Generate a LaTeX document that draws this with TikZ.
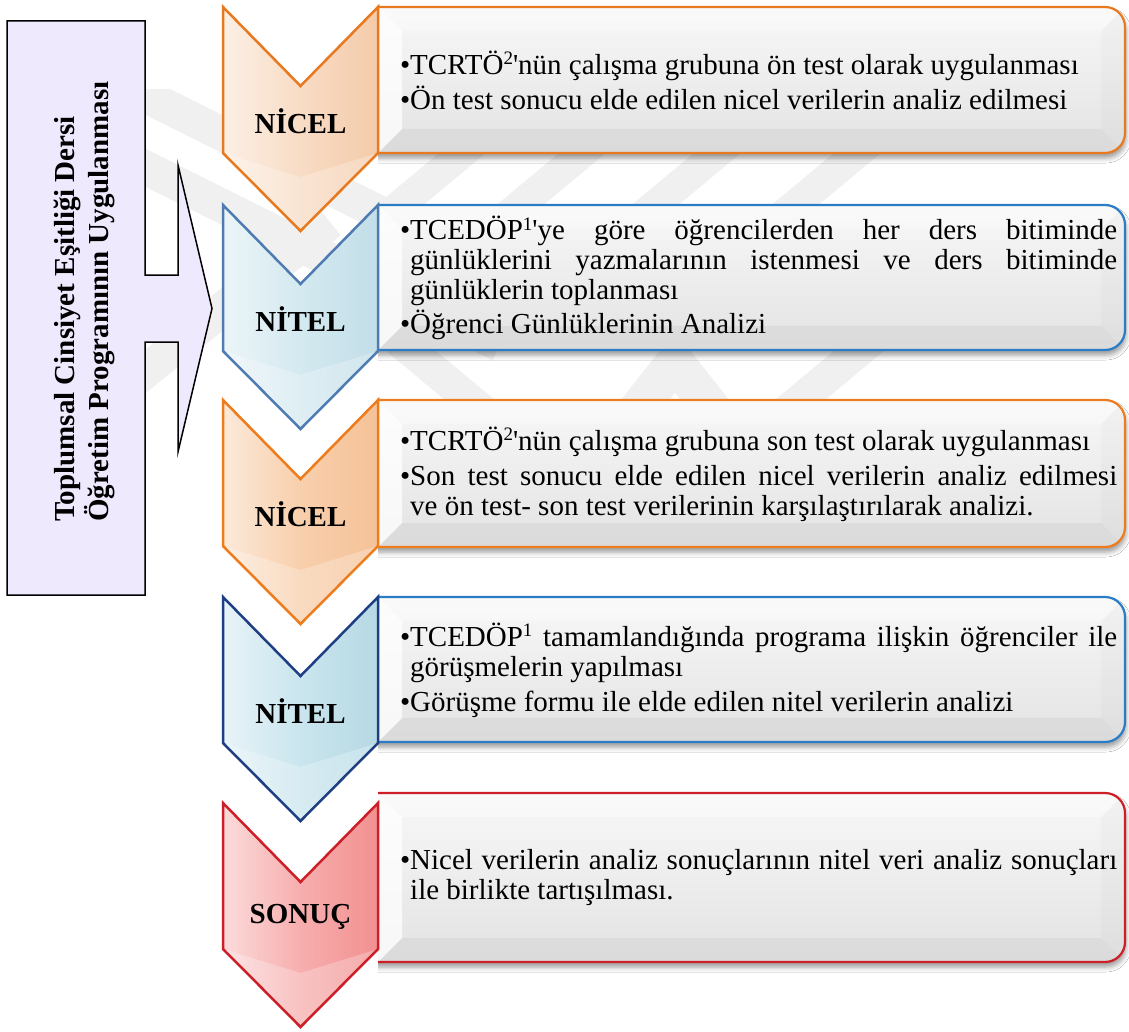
\documentclass[tikz,border=0pt]{standalone}
\usepackage{fontspec}
\setmainfont{Liberation Serif}[Ligatures=TeXOff]
\usetikzlibrary{shadows.blur}

% palette
\definecolor{wmark}{HTML}{F0F0F0}
\definecolor{lilac}{HTML}{EFE9FD}
\definecolor{peachA}{HTML}{F8DCC5}
\definecolor{peachB}{HTML}{F4CBAA}
\definecolor{peachC}{HTML}{F8CFAC}
\definecolor{peachD}{HTML}{F5C298}
\definecolor{skyA}{HTML}{D4E9F0}
\definecolor{skyB}{HTML}{C2DEE8}
\definecolor{skyC}{HTML}{CAE5EE}
\definecolor{skyD}{HTML}{B6D9E4}
\definecolor{roseA}{HTML}{F7AEAE}
\definecolor{roseB}{HTML}{F29090}
\definecolor{orangeline}{HTML}{E8791F}
\definecolor{orangeline2}{HTML}{EE7B1C}
\definecolor{steelline}{HTML}{4E7CB2}
\definecolor{navyline}{HTML}{1F3F84}
\definecolor{redline}{HTML}{CC1F28}
\definecolor{blueline}{HTML}{2B7CC6}

\tikzset{
  chevline/.style={line width=2.5pt, line join=miter},
  cardline/.style={line width=2.2pt},
  stagelabel/.style={font=\fontsize{29}{30}\bfseries\selectfont, inner sep=0pt},
  cardtext/.style={font=\fontsize{29}{30}\selectfont, align=left, inner sep=0pt, anchor=west},
  wstripe/.style={draw=wmark, line cap=butt, line join=miter},
}

% small raised index used in the abbreviations
\newcommand\idx[1]{\raisebox{9.5pt}{\fontsize{19}{19}\selectfont #1}}

% chevron: #1 top y, #2 light tone, #3 dark tone, #4 outline
\newcommand\stagechevron[4]{%
  \fill[left color=white!55!#2, right color=#2]
    (223,#1) -- (300.5,#1+79) -- (300.5,#1+224) -- (223,#1+146) -- cycle;
  \fill[left color=#2, right color=#3]
    (300.5,#1+79) -- (378,#1) -- (378,#1+146) -- (300.5,#1+224) -- cycle;
  \fill[white, opacity=0.25]
    (223,#1+146) -- (300.5,#1+170) -- (378,#1+146) -- (300.5,#1+224) -- cycle;
  \draw[chevline, draw=#4]
    (223,#1) -- (300.5,#1+79) -- (378,#1) -- (378,#1+146)
    -- (300.5,#1+224) -- (223,#1+146) -- cycle;
}

% text card: #1 top y, #2 bottom y, #3 outline
\newcommand\stagecard[3]{%
  \begin{scope}
    \clip (378,#1-10) rectangle (1145,#2+25);
    \fill[top color=white!97!black, bottom color=white!89!black, rounded corners=20pt,
          blur shadow={shadow xshift=1pt, shadow yshift=-5pt, shadow blur radius=5pt, shadow opacity=40}]
      (350,#1) rectangle (1125,#2);
    \begin{scope}
      \clip[rounded corners=20pt] (350,#1) rectangle (1125,#2);
      \fill[white, opacity=0.75] (378,#1) -- (402,#1+24) -- (402,#2-24) -- (378,#2) -- cycle;
      \fill[white, opacity=0.35] (378,#1) -- (1125,#1) -- (1101,#1+24) -- (402,#1+24) -- cycle;
      \fill[black, opacity=0.02] (1125,#1) -- (1125,#2) -- (1101,#2-24) -- (1101,#1+24) -- cycle;
      \fill[black, opacity=0.04] (378,#2) -- (402,#2-24) -- (1101,#2-24) -- (1125,#2) -- cycle;
    \end{scope}
    \draw[cardline, draw=#3, rounded corners=20pt] (350,#1) rectangle (1125,#2);
  \end{scope}
}

\begin{document}
\begin{tikzpicture}[x=1pt, y=-1pt]
  \useasboundingbox (0,0) rectangle (1129,1032);
  \fill[white] (0,0) rectangle (1129,1032);

  % faint background emblem
  \begin{scope}
    \clip (140,90) rectangle (1000,640);
    \draw[wstripe, line width=34pt] (110,78) -- (440,243);
    \draw[wstripe, line width=34pt] (110,150) -- (500,345);
    \draw[wstripe, line width=34pt] (110,400) -- (330,222);
    \foreach \cx in {430,550,685,825}
      \draw[wstripe, line width=30pt] (\cx-60,230) -- (\cx+60,130);
    \draw[wstripe, line width=32pt] (380,325) -- (500,425);
    \draw[wstripe, line width=38pt] (590,470) -- (675,362) -- (760,470);
    \draw[wstripe, line width=32pt] (770,425) -- (890,325);
  \end{scope}

  % left callout with its arrow
  \draw[fill=lilac, line width=1.5pt, line join=miter]
    (7,21) -- (145,21) -- (145,275) -- (178,275) -- (178,165) -- (212,308.5)
    -- (178,452) -- (178,342) -- (145,342) -- (145,595) -- (7,595) -- cycle;
  \node[rotate=90, anchor=west, align=left, inner sep=0pt,
        font=\fontsize{29}{34}\bfseries\selectfont] (program) at (84,522)
    {Toplumsal Cinsiyet Eşitliği Dersi\\Öğretim Programının Uygulanması};

  % cards
  \stagecard{7}{153}{orangeline}
  \stagecard{205}{350}{blueline}
  \stagecard{400}{547}{orangeline2}
  \stagecard{597}{742}{blueline}
  \stagecard{793}{962}{redline}

  % chevrons
  \stagechevron{7}{peachA}{peachB}{orangeline}
  \stagechevron{205}{skyA}{skyB}{steelline}
  \stagechevron{400}{peachC}{peachD}{orangeline2}
  \stagechevron{597}{skyC}{skyD}{navyline}
  \stagechevron{803}{roseA}{roseB}{redline}

  % stage labels
  \node[stagelabel] (s1) at (300.5,121) {NİCEL};
  \node[stagelabel] (s2) at (300.5,319) {NİTEL};
  \node[stagelabel] (s3) at (300.5,514) {NİCEL};
  \node[stagelabel] (s4) at (300.5,711) {NİTEL};
  \node[stagelabel] (s5) at (300.5,917) {SONUÇ};

  % card texts
  \node[cardtext] (c1) at (410,80)
    {\llap{•}TCRTÖ\idx{2}'nün çalışma grubuna ön test olarak uygulanması\\[5pt]
     \llap{•}Ön test sonucu elde edilen nicel verilerin analiz edilmesi};
  \node[cardtext] (c2) at (410,278)
    {\llap{•}\makebox[707pt][s]{TCEDÖP\idx{1}'ye göre öğrencilerden her ders bitiminde}\\
     \makebox[707pt][s]{günlüklerini yazmalarının istenmesi ve ders bitiminde}\\
     günlüklerin toplanması\\[4pt]
     \llap{•}Öğrenci Günlüklerinin Analizi};
  \node[cardtext] (c3) at (410,474)
    {\llap{•}TCRTÖ\idx{2}'nün çalışma grubuna son test olarak uygulanması\\[5pt]
     \llap{•}\makebox[707pt][s]{Son test sonucu elde edilen nicel verilerin analiz edilmesi}\\
     ve ön test- son test verilerinin karşılaştırılarak analizi.};
  \node[cardtext] (c4) at (410,670)
    {\llap{•}\makebox[707pt][s]{TCEDÖP\idx{1} tamamlandığında programa ilişkin öğrenciler ile}\\
     görüşmelerin yapılması\\[5pt]
     \llap{•}Görüşme formu ile elde edilen nitel verilerin analizi};
  \node[cardtext] (c5) at (410,878)
    {\llap{•}\makebox[707pt][s]{Nicel verilerin analiz sonuçlarının nitel veri analiz sonuçları}\\
     ile birlikte tartışılması.};
\end{tikzpicture}
\end{document}
